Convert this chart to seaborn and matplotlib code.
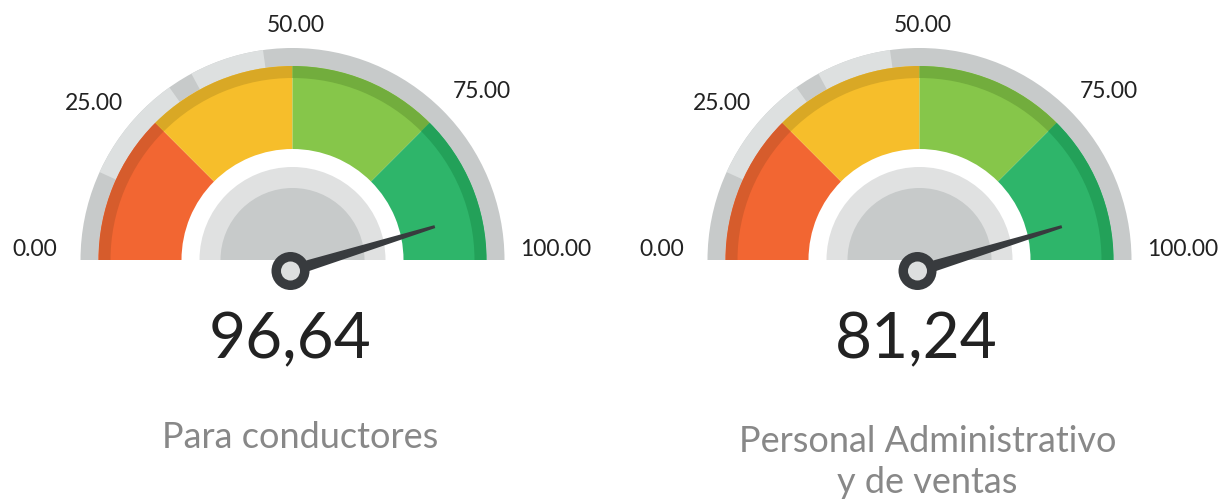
import numpy as np
import matplotlib
matplotlib.use("Agg")
import matplotlib.pyplot as plt
from matplotlib.patches import Wedge, Circle, Polygon
import seaborn as sns

sns.set_theme(style="white")
plt.rcParams['font.family'] = ['Lato', 'DejaVu Sans']

# ── Data ─────────────────────────────────────────────────────────────────────
band_edges = [0, 25, 50, 75, 100]
band_colors = ["#F26632", "#F6BE2B", "#86C64A", "#2EB56A"]
band_dark = ["#D65C2C", "#D9A825", "#72AD3D", "#23A159"]
tick_values = [0, 25, 50, 75, 100]
tick_labels = ["0.00", "25.00", "50.00", "75.00", "100.00"]
gauge_values = [96.64, 81.24]
value_labels = ["96,64", "81,24"]
needle_values = [90.5, 90.5]   # needle drawn at the same spot in both gauges
titles = ["Para conductores", "Personal Administrativo\ny de ventas"]

# ── Layout (pixels, y up) ────────────────────────────────────────────────────
W, H = 1225, 504
centers_x = [292.5, 919.5]
cy = H - 260
R_OUT, R_COL, R_DARK, R_IN = 212, 194, 182, 111
R_DISC, R_CORE = 93, 72


def ang(v):
    return 180.0 * (1 - v / 100.0)


fig = plt.figure(figsize=(W / 100, H / 100), dpi=100)
ax = fig.add_axes([0, 0, 1, 1])
ax.set_xlim(0, W)
ax.set_ylim(0, H)
ax.axis("off")

for i, cx in enumerate(centers_x):
    c = (cx, cy)
    # outer grey rim with light highlight segments
    ax.add_patch(Wedge(c, R_OUT, 0, 180, width=R_OUT - R_COL, color="#C7CACA", lw=0))
    for t1, t2 in [(125.5, 155.5), (98, 118.5)]:
        ax.add_patch(Wedge(c, R_OUT, t1, t2, width=R_OUT - R_COL, color="#DDE0E0", lw=0))
    # coloured bands
    for lo, hi, col, dk in zip(band_edges[:-1], band_edges[1:], band_colors, band_dark):
        ax.add_patch(Wedge(c, R_COL, ang(hi), ang(lo), width=R_COL - R_IN, color=col, lw=0))
        ax.add_patch(Wedge(c, R_COL, ang(hi), ang(lo), width=R_COL - R_DARK, color=dk, lw=0))
    # inner discs
    ax.add_patch(Wedge(c, R_DISC, 0, 180, color="#E0E1E1", lw=0))
    ax.add_patch(Wedge(c, R_CORE, 0, 180, color="#C7CACA", lw=0))
    # tick labels
    for v, lab in zip(tick_values, tick_labels):
        if v == 0:
            ha, x, y = "right", cx - 235, cy + 10
        elif v == 100:
            ha, x, y = "left", cx + 228, cy + 10
        elif v < 50:
            ha, x, y = "right", cx - 169, H - 103
        elif v > 50:
            ha, x, y = "left", cx + 160, H - 92
        else:
            ha, x, y = "center", cx + 3, H - 25
        ax.text(x, y, lab, ha=ha, va="center", fontsize=16.5, color="#222222")
    # needle
    px, py = cx - 2, cy - 11
    a = np.radians(ang(needle_values[i]))
    d = np.array([np.cos(a), np.sin(a)])
    n = np.array([-d[1], d[0]])
    base = np.array([px, py])
    tip = base + d * 151
    pts = [base + n * 6, tip + n * 1.5, tip - n * 1.5, base - n * 6]
    ax.add_patch(Polygon(pts, closed=True, color="#383B3E", lw=0))
    ax.add_patch(Circle((px, py), 19, color="#383B3E", lw=0))
    ax.add_patch(Circle((px, py), 9.5, color="#DDDFDF", lw=0))
    # value and title
    ax.text(cx - 3, H - 340, value_labels[i], ha="center", va="center",
            fontsize=46, color="#222222")
    ty = H - 438 if "\n" not in titles[i] else H - 462
    ax.text(cx + 8, ty, titles[i], ha="center", va="center",
            fontsize=26, color="#888888", linespacing=1.3)

plt.savefig("out.png", dpi=100)
